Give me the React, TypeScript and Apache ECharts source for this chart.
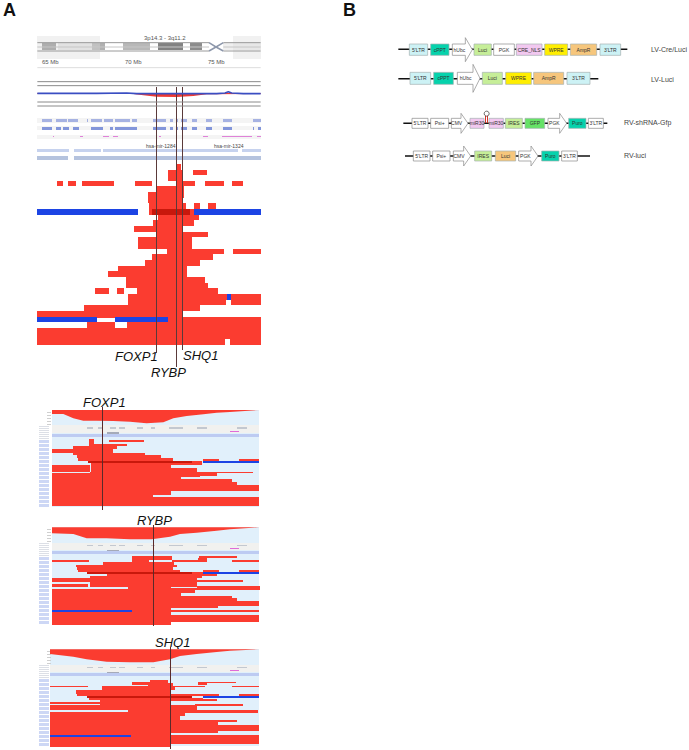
import React, { useEffect, useRef } from "react";
import * as echarts from "echarts";

const RED = "#fb3c30";
const DARK = "#c8180c";
const BLUE = "#1c44e4";
const SKY = "#e1f0fb";

// [x0, x1, y0, y1] spans
const mainReads = [
  [437,453,12,30],[415,458,30,62],[488,530,30,45],
  [80,100,62,79],[115,137,62,79],[157,252,62,79],[314,367,62,79],[437,495,62,79],[525,582,62,79],[605,640,62,79],
  [382,462,79,96],[354,462,96,113],[354,460,113,130],[358,468,130,147],[492,510,130,147],[533,557,130,147],
  [358,492,147,164],[385,507,164,181],[370,492,181,198],[313,458,198,215],[378,535,215,232],[323,485,232,266],
  [410,582,266,283],[608,692,266,283],[367,548,283,300],[345,510,300,317],[265,470,317,334],[235,470,334,351],
  [288,525,351,368],[288,535,368,385],[194,238,385,402],[262,283,385,402],[322,565,385,402],
  [295,590,402,419],[603,692,402,419],[295,587,419,436],[603,692,419,436],[162,510,436,453],[22,455,453,470],
  [414,692,470,487],[202,254,470,472],[170,255,487,504],[290,692,487,504],[22,692,504,538],[22,586,538,555],[600,692,538,555],
];
const mainBlue = [[22,324,147,164],[492,692,147,164],[590,603,402,419],[22,202,470,487],[254,414,470,487]];
const mainDark = [[367,480,147,164]];

const foxReads = [
  [178,192,148,163],[236,342,150,155],[178,292,163,168],[128,262,168,176],[66,250,176,188],[128,345,188,195],
  [140,392,195,205],[145,430,205,212],[175,516,212,219],[518,568,207,212],[628,688,207,212],
  [183,516,219,226],[66,180,226,245],[183,422,226,245],[423,500,233,245],[180,670,245,250],
  [66,560,250,257],[66,510,257,262],[66,453,262,268],[66,605,268,275],[66,620,275,284],[66,688,284,303],
  [66,422,303,316],[66,370,316,320],[66,688,320,348],
];
const foxBlue = [[518,688,213,219]];
const foxDark = [[175,487,212,219]];
const foxCoverage = [[66,72],[100,72],[130,85],[160,92],[200,92],[250,93],[300,95],[350,100],[400,97],[430,85],[470,78],[520,73],[560,68],[600,66],[688,60]];

const rybReads = [
  [305,425,139,150],[508,622,139,144],[505,530,144,156],[66,178,150,156],[305,358,150,156],[425,525,150,156],[605,688,150,156],
  [218,432,156,165],[138,440,165,172],[140,430,172,180],[145,450,180,186],[172,518,186,192],[518,568,180,186],[628,688,180,186],
  [230,560,192,197],[180,515,197,205],[66,183,204,209],[66,213,211,216],[180,423,205,232],[423,640,211,216],[423,500,205,230],
  [66,175,222,232],[295,423,232,238],[500,690,228,233],[423,690,233,240],[66,423,238,295],[423,495,240,250],[423,453,250,258],
  [423,605,258,263],[423,620,263,272],[423,688,272,288],[423,565,288,295],[66,423,295,345],[423,688,300,306],[370,688,314,336],
];
const rybBlue = [[518,688,186,192],[66,305,300,306]];
const rybDark = [[172,487,186,192]];
const rybCoverage = [[66,70],[130,72],[170,85],[230,85],[300,88],[365,88],[420,80],[450,72],[500,68],[560,62],[600,58],[688,52]];

const shqReads = [
  [360,415,150,158],[305,415,155,166],[505,618,155,160],[505,530,160,166],[60,175,167,172],[215,355,167,172],[355,430,158,178],
  [430,525,167,172],[605,688,167,172],[215,435,172,180],[138,420,180,192],[140,520,192,198],[520,568,192,197],[628,688,192,197],
  [178,518,204,210],[225,560,208,214],[60,215,216,221],[210,420,204,240],[420,500,225,240],[495,640,222,228],[60,210,226,240],
  [295,420,240,245],[60,420,245,350],[420,685,240,248],[420,465,248,258],[420,450,258,270],[420,620,270,277],[420,565,277,285],
  [420,688,285,303],[420,565,303,310],[420,688,315,342],
];
const shqBlue = [[518,688,197,204],[60,302,314,321]];
const shqDark = [[172,485,197,204]];
const shqCoverage = [[60,72],[130,80],[170,88],[230,95],[300,97],[370,97],[420,88],[450,78],[500,72],[560,66],[600,62],[688,58]];

const igvGenes = [[172,188],[205,220],[240,258],[268,285],[320,338],[362,375],[418,458],[500,532],[620,650]];
const sidebarStripes = [150,162,174,186,198,210,222,234,246,258,270,282,294,306,318,330,342];
const sideTicks = [6,15,24,33,42];
const sideRows = [48,54,60,66,72,78,84];

// ideogram
const ideoBands: [number, number, string][] = [
  [35,78,"#8f8f8f"],[85,185,"#e6e6e6"],[185,225,"#b0b0b0"],[280,360,"#b8b8b8"],[385,460,"#828282"],[480,515,"#8c8c8c"],[580,692,"#efefef"],
];
const ideoShade = [[22,210,108,178],[610,692,108,178]];
const ideoCross = [[[537,128],[558,141],[580,128]],[[537,153],[558,141],[580,153]]];
const trackRules = [245,257,306,318];
const waveBlue = [[22,280],[200,280],[290,279],[320,281],[400,281],[560,281],[585,279],[595,275],[605,279],[640,281],[692,281]];
const waveRed = [[22,282],[310,282],[340,286],[380,290],[440,291],[490,288],[530,283],[692,282]];
const genesA = [[35,65],[78,110],[115,145],[170,175],[183,215],[222,250],[255,300],[305,320],[368,408],[420,430],[438,443],[452,472],[485,500],[528,545],[578,605],[668,692]];
const genesB = [[35,65],[78,92],[100,118],[130,148],[183,218],[240,250],[255,320],[368,408],[420,430],[438,443],[452,472],[485,500],[528,545],[578,605],[668,672],[685,692]];
const genesC = [[68,73],[150,160],[220,237],[248,265],[388,392],[520,533],[577,665],[682,692]];
const barsA = [[22,118],[132,212],[220,625],[635,692]];
const barsB = [[22,115],[132,692]];

// vectors: [label, start, end, kind]
const lvCre = [["5'LTR",58,113,"ltr"],["cPPT",122,177,"ppt"],["hUbc",187,247,"arrow"],["Luci",252,304,"luci"],["PGK",311,373,"plain"],["CRE_NLS",379,456,"mir"],["WPRE",464,533,"wpre"],["AmpR",541,620,"amp"],["3'LTR",630,692,"ltr"]];
const lvLuci = [["5'LTR",60,122,"ltr"],["cPPT",131,190,"ppt"],["hUbc",202,270,"arrow"],["Luci",277,337,"luci"],["WPRE",347,424,"wpre"],["AmpR",431,521,"amp"],["3'LTR",531,600,"ltr"]];
const rvShrna = [["5'LTR",66,114,"plain"],["Psi+",122,176,"plain"],["CMV",184,234,"arrow"],["miR30",240,282,"mir"],["miR30",297,340,"mir"],["IRES",346,397,"luci"],["GFP",405,464,"gfp"],["PGK",474,530,"arrow"],["Puro",536,588,"ppt"],["3'LTR",595,640,"plain"]];
const rvLuci = [["5'LTR",70,120,"plain"],["Psi+",128,180,"plain"],["CMV",190,242,"arrow"],["IRES",254,305,"luci"],["Luci",316,377,"amp"],["PGK",386,444,"arrow"],["Puro",455,507,"ppt"],["3'LTR",515,562,"plain"]];
const backbones = [[25,712,58],[25,625,146]];
const backbonesRv = [[40,652,70],[45,600,168]];
const fills: Record<string, string> = { ltr:"#cdf2f5", ppt:"#06d2ac", arrow:"#ffffff", luci:"#c6ee98", plain:"#ffffff", mir:"#f2c8f0", wpre:"#ffee00", amp:"#f6c67c", gfp:"#66e266" };

const txt = (text: string, x: number, y: number, fontSize: number, extra: any = {}) => ({
  type: "text", x, y, silent: true,
  style: { text, fontSize, fontFamily: "Liberation Sans", fill: "#111", ...extra },
});

function App() {
  const ref = useRef<HTMLDivElement>(null);
  useEffect(() => {
    const chart = echarts.init(ref.current!, undefined, { renderer: "svg" });
    const grids: any[] = [], xAxes: any[] = [], yAxes: any[] = [], series: any[] = [];
    const addGrid = (ox: number, oy: number, w: number, h: number) => {
      const i = grids.length;
      grids.push({ left: ox, top: oy, width: w, height: h, show: false });
      xAxes.push({ type: "value", gridIndex: i, min: 0, max: w * 3, show: false });
      yAxes.push({ type: "value", gridIndex: i, min: 0, max: h * 3, inverse: true, show: false });
      return i;
    };
    const rects = (g: number, data: number[][], color: string, opacity = 1) => series.push({
      type: "custom", xAxisIndex: g, yAxisIndex: g, clip: false, silent: true, data, encode: { x: [0, 1], y: [2, 3] }, z: 2,
      renderItem: (_: any, api: any) => {
        const a = api.coord([api.value(0), api.value(2)]);
        const b = api.coord([api.value(1), api.value(3)]);
        const x0 = Math.round(a[0]), y0 = Math.round(a[1]);
        return { type: "rect", shape: { x: x0, y: y0, width: Math.max(1, Math.round(b[0]) - x0), height: Math.max(1, Math.round(b[1]) - y0) }, style: { fill: color, opacity } };
      },
    });
    const line = (g: number, data: number[][], color: string, width = 1, z = 2) => series.push({
      type: "line", xAxisIndex: g, yAxisIndex: g, data, symbol: "none", silent: true, clip: false, z,
      lineStyle: { color, width },
    });
    const poly = (g: number, pts: number[][], color: string) => series.push({
      type: "custom", xAxisIndex: g, yAxisIndex: g, clip: false, silent: true, data: [pts[0]], z: 2,
      renderItem: (_: any, api: any) => ({ type: "polygon", shape: { points: pts.map((p) => api.coord(p)) }, style: { fill: color } }),
    });
    const igv = (oy: number, h: number, x0: number, cov: number[][], reads: number[][], blue: number[][], dark: number[][], lx: number, y0: number, y1: number) => {
      const g = addGrid(30, oy, 240, h);
      rects(g, [[x0, 688, y0, y1]], SKY);
      rects(g, [[x0, 688, y0 + 46, y0 + 68]], "#f1f1ef");
      rects(g, igvGenes.map((r) => [r[0], r[1], y0 + 52, y0 + 57]), "#c3c8d0");
      rects(g, [[x0, 688, y0 + 72, y0 + 80]], "#bdcbf2");
      rects(g, [[600, 628, y0 + 63, y0 + 66]], "#e06bd8");
      rects(g, [[232, 266, y0 + 67, y0 + 71]], "#a5aab8");
      rects(g, sideRows.map((s) => [26, 58, y0 + s, y0 + s + 3]), "#dcdfe6");
      rects(g, sideTicks.map((s) => [50, 62, y0 + s, y0 + s + 3]), "#cfcfcf");
      rects(g, sidebarStripes.map((s) => [26, 58, s + y0 - 60, s + y0 - 51]), "#cdd7f5");
      poly(g, [...cov, [cov[cov.length - 1][0], y0], [cov[0][0], y0]], RED);
      rects(g, reads, RED);
      rects(g, blue, BLUE);
      rects(g, dark, DARK);
      rects(g, [[lx, lx + 1, y0 - 8, y1 + 10]], "#5a2a2a");
    };

    // Ideogram and tracks
    const top = addGrid(30, 0, 240, 170);
    rects(top, [[22, 692, 128, 153]], "#ffffff");
    ideoBands.forEach((b) => rects(top, [[b[0], b[1], 130, 151]], b[2]));
    line(top, [[22, 141], [537, 141]], "#c6c6c6", 1);
    line(top, [[580, 141], [692, 141]], "#c6c6c6", 1);
    line(top, [[22, 128], [537, 128]], "#9a9a9a");
    line(top, [[22, 153], [537, 153]], "#9a9a9a");
    line(top, [[580, 128], [692, 128]], "#9a9a9a");
    line(top, [[580, 153], [692, 153]], "#9a9a9a");
    ideoCross.forEach((c) => line(top, c, "#8d97ab", 1.5));
    rects(top, ideoShade, "#dcdcdc", 0.4);
    line(top, [[22, 203], [692, 203]], "#dddddd");
    trackRules.forEach((y) => line(top, [[22, y], [692, y]], "#8a8a8a", 1));
    poly(top, [...waveRed, [692, 279], [22, 279]], "#ee3a32");
    line(top, waveBlue, "#3a4ec2", 1.6);
    rects(top, [[22, 692, 355, 368], [22, 692, 378, 391], [22, 692, 404, 416]], "#f4f4f4");
    rects(top, genesA.map((r) => [r[0], r[1], 358, 365]), "#a6b2e2");
    rects(top, genesB.map((r) => [r[0], r[1], 380, 389]), "#8396da");
    rects(top, genesC.map((r) => [r[0], r[1], 407, 412]), "#df82d8");
    rects(top, barsA.map((r) => [r[0], r[1], 447, 457]), "#c6d2ee");
    rects(top, barsB.map((r) => [r[0], r[1], 468, 480]), "#b5c3de");

    // Main pile-up
    const pile = addGrid(30, 160, 240, 220);
    rects(pile, mainReads, RED);
    rects(pile, mainBlue, BLUE);
    rects(pile, mainDark, DARK);
    rects(pile, [[376.5, 378, -220, 580]], "#5a3a3a");
    rects(pile, [[437.5, 439, -220, 620]], "#5a3a3a");
    rects(pile, [[456.5, 458, -220, 570]], "#5a3a3a");

    igv(390, 125, 66, foxCoverage, foxReads, foxBlue, foxDark, 217, 60, 350);
    igv(510, 120, 66, rybCoverage, rybReads, rybBlue, rybDark, 368, 52, 337);
    igv(630, 120, 60, shqCoverage, shqReads, shqBlue, shqDark, 419, 58, 348);

    // Vectors
    const addVector = (g: number, parts: any[], cy: number, half: number, tip: number) => series.push({
      type: "custom", xAxisIndex: g, yAxisIndex: g, clip: false, silent: true, z: 3,
      data: parts.map((p) => [p[1], p[2], cy]),
      renderItem: (params: any, api: any) => {
        const p = parts[params.dataIndex];
        const a = api.coord([api.value(0), api.value(2) - half]);
        const b = api.coord([api.value(1), api.value(2) + half]);
        const my = (a[1] + b[1]) / 2, mx = (a[0] + b[0]) / 2;
        const stroke = p[3] === "arrow" || p[3] === "plain" ? "#8b8b8b" : "#a6b2b2";
        const shape = p[3] === "arrow"
          ? { type: "polygon", shape: { points: [[a[0], a[1]], [b[0] - 7, a[1]], [b[0] - 7, my - tip], [b[0], my], [b[0] - 7, my + tip], [b[0] - 7, b[1]], [a[0], b[1]]] }, style: { fill: "#fff", stroke, lineWidth: 0.7 } }
          : { type: "rect", shape: { x: a[0], y: a[1], width: b[0] - a[0], height: b[1] - a[1] }, style: { fill: fills[p[3]], stroke, lineWidth: 0.7 } };
        return { type: "group", children: [shape, { type: "text", style: { text: p[0], x: p[3] === "arrow" ? mx - 3 : mx, y: my, fontSize: 5, fontFamily: "Liberation Sans", fill: "#333", align: "center", verticalAlign: "middle" } }] };
      },
    });
    const lv = addGrid(390, 30, 299, 70);
    backbones.forEach((b) => line(lv, [[b[0], b[2]], [b[1], b[2]]], "#111", 1.5, 1));
    addVector(lv, lvCre, 59, 17, 12);
    addVector(lv, lvLuci, 145, 18, 14);
    const rv = addGrid(390, 100, 299, 75);
    backbonesRv.forEach((b) => line(rv, [[b[0], b[2]], [b[1], b[2]]], "#111", 1.5, 1));
    addVector(rv, rvShrna, 70, 15, 10);
    addVector(rv, rvLuci, 168, 15, 10);
    series.push({ type: "scatter", xAxisIndex: rv, yAxisIndex: rv, data: [[290, 41]], symbol: "circle", symbolSize: 5, silent: true, z: 4, itemStyle: { color: "#fff", borderColor: "#444", borderWidth: 1 } });
    const hairpin = rects(rv, [[285, 288, 44, 68], [292, 295, 44, 68]], "#d9342a");
    series[hairpin - 1].z = 4;

    const italic = { fontStyle: "italic" };
    chart.setOption({
      animation: false,
      backgroundColor: "#fff",
      grid: grids, xAxis: xAxes, yAxis: yAxes, series,
      graphic: [
        txt("A", 3, 1, 18, { fontWeight: "bold" }),
        txt("B", 343, 1, 18, { fontWeight: "bold" }),
        txt("3p14.3 - 3q11.2", 144, 35, 6, { fill: "#555" }),
        txt("65 Mb", 42, 59, 6, { fill: "#555" }),
        txt("70 Mb", 125, 59, 6, { fill: "#555" }),
        txt("75 Mb", 208, 59, 6, { fill: "#555" }),
        txt("hsa-mir-1284", 146, 143, 5, { fill: "#444" }),
        txt("hsa-mir-1324", 214, 143, 5, { fill: "#444" }),
        txt("FOXP1", 115, 350, 13, italic),
        txt("RYBP", 151, 366, 13, italic),
        txt("SHQ1", 183, 349, 13, italic),
        txt("FOXP1", 83, 396, 13, italic),
        txt("RYBP", 137, 514, 13, italic),
        txt("SHQ1", 155, 636, 13, italic),
        txt("LV-Cre/Luci", 651, 46, 7, { fill: "#444" }),
        txt("LV-Luci", 651, 76, 7, { fill: "#444" }),
        txt("RV-shRNA-Gfp", 624, 119, 7, { fill: "#444" }),
        txt("RV-luci", 624, 152, 7, { fill: "#444" }),
      ],
    });
    return () => chart.dispose();
  }, []);
  return <div ref={ref} style={{ position: "fixed", left: 0, top: 0, width: 689, height: 750 }} />;
}

export default App;
